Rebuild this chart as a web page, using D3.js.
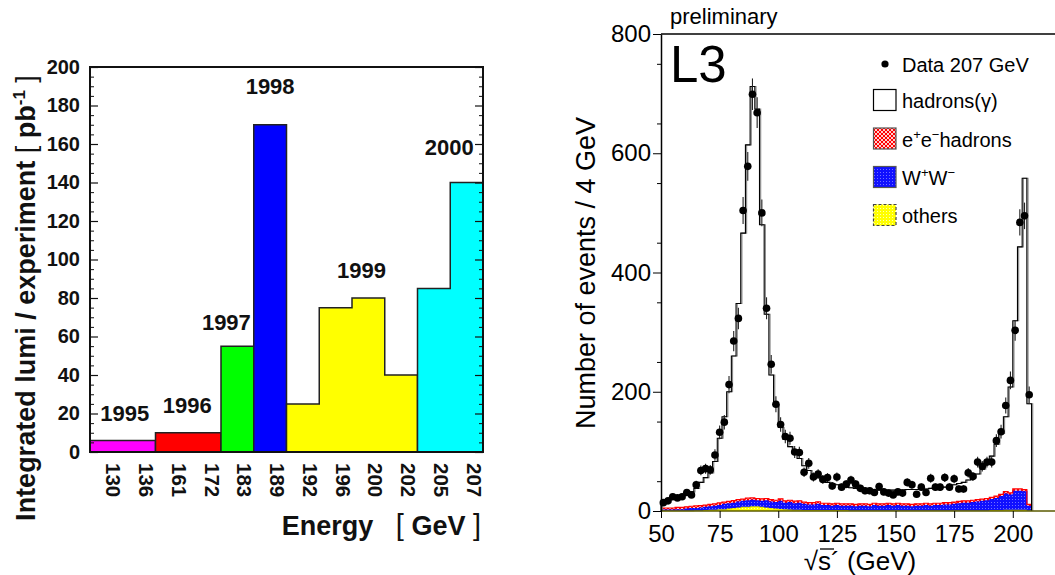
<!DOCTYPE html>
<html><head><meta charset="utf-8">
<script src="https://cdn.jsdelivr.net/npm/d3@7"></script>
<style>
body{margin:0;background:#fff}
svg{display:block;font-family:"Liberation Sans",Arial,Helvetica,sans-serif}
</style>
</head><body>
<svg id="c" width="1055" height="575"></svg>
<script>
// ================= LEFT CHART DATA =================
const energies = ["130","136","161","172","183","189","192","196","200","202","205","207"];
const lumi     = [6, 6, 10, 10, 55, 170, 25, 75, 80, 40, 85, 140];
const years    = ["1995","1995","1996","1996","1997","1998","1999","1999","1999","1999","2000","2000"];
const yearLabels = ["1995","1996","1997","1998","1999","2000"];
const yearColors = ["#ff00ff","#ff0000","#00ff00","#0000ff","#ffff00","#00ffff"];
const lumiTicks  = [0,20,40,60,80,100,120,140,160,180,200];

// ================= RIGHT CHART DATA =================
const binCenters = [51,53,55,57,59,61,63,65,67,69,
  71,73,75,77,79,81,83,85,87,89,
  91,93,95,97,99,101,103,105,107,109,
  111,113,115,117,119,121,123,125,127,129,
  131,133,135,137,139,141,143,145,147,149,
  151,153,155,157,159,161,163,165,167,169,
  171,173,175,177,179,181,183,185,187,189,
  191,193,195,197,199,201,203,205,207];
const dataCounts = [14,17,24,22,24,31,27,44,68,71,
  69,94,132,149,212,285,323,504,578,699,
  668,500,340,246,179,145,125,122,99,98,
  65,80,57,62,53,56,42,57,40,45,
  52,45,38,34,34,31,41,32,30,27,
  32,30,48,44,28,40,31,55,40,40,
  56,40,54,37,37,64,58,82,75,82,
  82,118,133,177,219,303,484,495,195];
const mcHadrons = [15,18,21,24,27,30,32,38,48,56,
  64,83,122,158,200,260,348,466,614,712,
  674,480,330,228,178,140,120,108,98,88,
  76,68,62,56,52,48,46,44,42,40,
  39,38,37,36,36,35,35,35,35,35,
  35,35,36,36,36,37,37,38,38,39,
  40,42,44,46,48,52,56,62,70,80,
  92,112,130,158,208,319,443,558,180];
const bgOthers = [0.5,0.5,0.5,0.5,0.5,0.5,0.5,1,1,1.5,
  2,2,3,3,4,5,6,7,7,8,
  8,7,6,5,4,3.5,3,2.5,2,2,
  1.5,1.5,1.5,1.5,1.5,1.5,1.5,1.5,1.5,1.5,
  1,1,1,1,1,1,1,1,1,1,
  1,1,1,1,1,1,1,1,1,1,
  1,1,1,1,1,1,1,1,1,1,
  1.5,1.5,1.5,2,2,2,2,2,1];
const bgWW = [2,2,2,2.5,2.5,3.5,4.5,4,5,5.5,
  6,7,7,9,9,9,10,10,11,11,
  10,10,12,11,11,13.5,11,12.5,11,12,
  10.5,9.5,9.5,10.5,8.5,8.5,7.5,8.5,7.5,7.5,
  8,7,8,8,7,9,8,8,9,8,
  9,8,8,7,8,8,9,8,9,9,
  10,10,11,12,13,13,14,15,16,17,
  18.5,20.5,23.5,27.5,25.5,32,32,31,8];
const bgEE = [2.5,2.5,2.5,3,3,3,3,3.5,3,3,
  3,3,3.5,3,3,3.5,3,3,3.5,3,
  3,3.5,3,3,3,3.5,3,3,3.5,3,
  3,3,3,3.5,3,3,3,3,3,3,
  3,3,3,3,3,3,3,3,3,3,
  3,3,3,3,3,3,3,3,3,3,
  3,3,3,3,3,3,3,3,3,3,
  3,3,3,3,3,3,3,3,2];
const sqrtsTicks = [50,75,100,125,150,175,200];
const eventTicks = [0,200,400,600,800];
const binWidth = 2;

const svg = d3.select("#c");

// ---------- patterns ----------
const defs = svg.append("defs");
const pRed = defs.append("pattern").attr("id","pRed").attr("width",4).attr("height",4).attr("patternUnits","userSpaceOnUse");
pRed.append("rect").attr("width",4).attr("height",4).attr("fill","#ffd0d0");
pRed.append("path").attr("d","M0,0L4,4M4,0L0,4").attr("stroke","#ff0000").attr("stroke-width",1);
const pBlue = defs.append("pattern").attr("id","pBlue").attr("width",3).attr("height",3).attr("patternUnits","userSpaceOnUse");
pBlue.append("rect").attr("width",3).attr("height",3).attr("fill","#1010ff");
pBlue.append("rect").attr("x",1).attr("y",1).attr("width",1).attr("height",1).attr("fill","#7070ff");
const pYel = defs.append("pattern").attr("id","pYel").attr("width",3).attr("height",3).attr("patternUnits","userSpaceOnUse");
pYel.append("rect").attr("width",3).attr("height",3).attr("fill","#ffff00");
pYel.append("rect").attr("x",1).attr("y",1).attr("width",1).attr("height",1).attr("fill","#ffffb0");

// ================= LEFT CHART =================
const L = {left:90,right:483,top:67,bottom:452};
const xL = d3.scaleBand().domain(energies).range([L.left,L.right]);
const yL = d3.scaleLinear().domain([0,200]).range([L.bottom,L.top]);
const bw = xL.bandwidth();
const gL = svg.append("g");

const labelOffset = {"1995":[2,-19],"1996":[-1,-20],"1997":[-11,-16],"1998":[0,-31],"1999":[9.5,-20],"2000":[-1,-28]};

yearLabels.forEach((yr,k)=>{
  const idx = years.map((y,i)=>y===yr?i:-1).filter(i=>i>=0);
  const x0 = xL(energies[idx[0]]);
  const x1 = xL(energies[idx[idx.length-1]])+bw;
  let p = `M${x0},${yL(0)}`;
  idx.forEach(i=>{ p += `L${xL(energies[i])},${yL(lumi[i])}L${xL(energies[i])+bw},${yL(lumi[i])}`; });
  p += `L${x1},${yL(0)}Z`;
  gL.append("path").attr("d",p).attr("fill",yearColors[k]).attr("stroke","#222").attr("stroke-width",1.5);
  const maxV = d3.max(idx,i=>lumi[i]);
  const o = labelOffset[yr];
  gL.append("text").attr("x",(x0+x1)/2+o[0]).attr("y",yL(maxV)+o[1])
    .attr("text-anchor","middle").attr("font-weight","bold").attr("font-size",22).attr("fill","#111").text(yr);
});

// frame
gL.append("rect").attr("x",L.left).attr("y",L.top).attr("width",L.right-L.left).attr("height",L.bottom-L.top)
  .attr("fill","none").attr("stroke","#111").attr("stroke-width",2);

// y axis left with labels (ticks inside)
const axL = gL.append("g").attr("transform",`translate(${L.left},0)`)
  .call(d3.axisLeft(yL).tickValues(lumiTicks).tickSize(-8).tickSizeOuter(0).tickPadding(10));
axL.select(".domain").remove();
axL.selectAll("text").attr("font-size",20).attr("font-weight","bold").attr("fill","#111").attr("font-family","Liberation Sans, Arial, sans-serif");
axL.selectAll("line").attr("stroke","#111").attr("stroke-width",1.2);
const minorL = d3.range(0,201,5).filter(v=>v%20!==0);
const axLm = gL.append("g").attr("transform",`translate(${L.left},0)`)
  .call(d3.axisLeft(yL).tickValues(minorL).tickSize(-4).tickSizeOuter(0).tickFormat(""));
axLm.select(".domain").remove();
axLm.selectAll("line").attr("stroke","#111");
const axR = gL.append("g").attr("transform",`translate(${L.right},0)`)
  .call(d3.axisRight(yL).tickValues(lumiTicks).tickSize(-8).tickSizeOuter(0).tickFormat(""));
axR.select(".domain").remove();
axR.selectAll("line").attr("stroke","#111").attr("stroke-width",1.2);
const axRm = gL.append("g").attr("transform",`translate(${L.right},0)`)
  .call(d3.axisRight(yL).tickValues(minorL).tickSize(-4).tickSizeOuter(0).tickFormat(""));
axRm.select(".domain").remove();
axRm.selectAll("line").attr("stroke","#111");

// x axis labels rotated
const axB = gL.append("g").attr("transform",`translate(0,${L.bottom})`)
  .call(d3.axisBottom(xL).tickSize(0).tickSizeOuter(0));
axB.select(".domain").remove();
axB.selectAll("text").attr("x",0).attr("y",0).attr("dy",null)
  .attr("transform","translate(0,11) rotate(90)").attr("text-anchor","start")
  .attr("font-size",20.5).attr("font-weight","bold").attr("fill","#111");

// titles
const yt = gL.append("text").attr("transform","translate(35,298) rotate(-90)").attr("text-anchor","middle")
  .attr("font-size",27).attr("font-weight","bold").attr("fill","#111");
yt.append("tspan").text("Integrated lumi / experiment ");
yt.append("tspan").attr("font-weight","normal").text("[");
yt.append("tspan").text(" pb");
yt.append("tspan").attr("font-size",17).attr("dy",-10).text("-1");
yt.append("tspan").attr("dy",10).attr("font-weight","normal").text(" ]");

const xt = gL.append("text").attr("x",481).attr("y",535).attr("text-anchor","end")
  .attr("font-size",27).attr("font-weight","bold").attr("fill","#111").attr("xml:space","preserve");
xt.append("tspan").text("Energy   ");
xt.append("tspan").attr("font-weight","normal").attr("font-size",29).text("[");
xt.append("tspan").text(" GeV ");
xt.append("tspan").attr("font-weight","normal").attr("font-size",29).text("]");

// ================= RIGHT CHART =================
const R = {left:661,right:1055,top:34,bottom:511};
const xs = d3.scaleLinear().domain([50,218]).range([R.left,R.right]);
const ys = d3.scaleLinear().domain([0,800]).range([R.bottom,R.top]);
const gR = svg.append("g");

const rows = binCenters.map((c,i)=>({c, others:bgOthers[i], ww:bgWW[i], ee:bgEE[i]}));
const stacked = d3.stack().keys(["others","ww","ee"])(rows);
const stepPts = s => s.flatMap(d=>[{x:d.data.c-binWidth/2,y0:d[0],y1:d[1]},{x:d.data.c+binWidth/2,y0:d[0],y1:d[1]}]);
const area = d3.area().x(d=>xs(d.x)).y0(d=>ys(d.y0)).y1(d=>ys(d.y1));
const topLine = d3.line().x(d=>xs(d.x)).y(d=>ys(d.y1));
const fills = {others:"url(#pYel)", ww:"url(#pBlue)", ee:"url(#pRed)"};
const strokes = {others:"#c8c800", ww:"#0000ff", ee:"#ff0000"};
stacked.forEach(s=>{
  const pts = stepPts(s);
  gR.append("path").attr("d",area(pts)).attr("fill",fills[s.key]);
  gR.append("path").attr("d",topLine(pts)).attr("fill","none").attr("stroke",strokes[s.key]).attr("stroke-width",1.2);
});

// MC histogram
const mcPts = [{x:binCenters[0]-binWidth/2,y:0}];
binCenters.forEach((c,i)=>{ mcPts.push({x:c-binWidth/2,y:mcHadrons[i]}); mcPts.push({x:c+binWidth/2,y:mcHadrons[i]}); });
mcPts.push({x:binCenters[binCenters.length-1]+binWidth/2,y:0});
const mcLine = d3.line().x(d=>xs(d.x)).y(d=>ys(d.y));
gR.append("path").attr("d",mcLine(mcPts)).attr("transform","translate(1.2,0)").attr("fill","none").attr("stroke","#8a8a8a").attr("stroke-width",1.1);
gR.append("path").attr("d",mcLine(mcPts)).attr("fill","none").attr("stroke","#000").attr("stroke-width",1.1);

// data points with errors
const dg = gR.append("g");
binCenters.forEach((c,i)=>{
  const n = dataCounts[i], e = Math.sqrt(n);
  dg.append("line").attr("x1",xs(c)).attr("x2",xs(c)).attr("y1",ys(n-e)).attr("y2",ys(n+e)).attr("stroke","#222").attr("stroke-width",1.1);
  dg.append("circle").attr("cx",xs(c)).attr("cy",ys(n)).attr("r",3.8).attr("fill","#000");
});

// frame lines
gR.append("line").attr("x1",R.left).attr("x2",R.right).attr("y1",R.top).attr("y2",R.top).attr("stroke","#000").attr("stroke-width",1.5);
gR.append("line").attr("x1",R.left).attr("x2",R.right).attr("y1",R.bottom).attr("y2",R.bottom).attr("stroke","#5a5a00").attr("stroke-width",1.5);

// axes
const ayR = gR.append("g").attr("transform",`translate(${R.left},0)`)
  .call(d3.axisLeft(ys).tickValues(eventTicks).tickSize(8).tickSizeOuter(0).tickPadding(2));
ayR.select(".domain").attr("stroke","#000").attr("stroke-width",1.5);
ayR.selectAll("text").attr("font-size",24).attr("fill","#000").attr("font-family","Liberation Sans, Arial, sans-serif");
const ayRm = gR.append("g").attr("transform",`translate(${R.left},0)`)
  .call(d3.axisLeft(ys).tickValues(d3.range(50,800,100)).tickSize(4).tickSizeOuter(0).tickFormat(""));
ayRm.select(".domain").remove();
const axRb = gR.append("g").attr("transform",`translate(0,${R.bottom})`)
  .call(d3.axisBottom(xs).tickValues(sqrtsTicks).tickSize(7).tickSizeOuter(0).tickPadding(7));
axRb.select(".domain").remove();
axRb.selectAll("text").attr("font-size",24).attr("fill","#000").attr("font-family","Liberation Sans, Arial, sans-serif");

// titles
gR.append("text").attr("transform","translate(595,273) rotate(-90)").attr("text-anchor","middle")
  .attr("font-size",27).attr("fill","#000").text("Number of events / 4 GeV");
gR.append("text").attr("x",860).attr("y",570).attr("text-anchor","middle").attr("font-size",26).attr("fill","#000").text("√s´ (GeV)");
gR.append("line").attr("x1",820).attr("x2",834).attr("y1",549).attr("y2",549).attr("stroke","#000").attr("stroke-width",1.3);
gR.append("text").attr("x",670).attr("y",24).attr("font-size",22).attr("fill","#000").text("preliminary");
gR.append("text").attr("x",670).attr("y",82).attr("font-size",51).attr("fill","#000").text("L3");

// legend
const lg = gR.append("g");
lg.append("circle").attr("cx",885).attr("cy",64).attr("r",3.6).attr("fill","#000");
lg.append("text").attr("x",902).attr("y",71.5).attr("font-size",20).text("Data 207 GeV");
const legItems = [
  {fill:"#fff", stroke:"#000", y:89.5, t:["hadrons(γ)"]},
  {fill:"url(#pRed)", stroke:"#555", y:128, t:["e","+","e","−","hadrons"]},
  {fill:"url(#pBlue)", stroke:"#555", y:166.5, t:["W","+","W","−"]},
  {fill:"url(#pYel)", stroke:"#444", y:204.5, t:["others"], dash:"3,2"}
];
legItems.forEach(it=>{
  lg.append("rect").attr("x",873.5).attr("y",it.y).attr("width",22.5).attr("height",21)
    .attr("fill",it.fill).attr("stroke",it.stroke).attr("stroke-width",1.2).attr("stroke-dasharray",it.dash||null);
  const t = lg.append("text").attr("x",902).attr("y",it.y+18.5).attr("font-size",20);
  it.t.forEach((s,j)=>{
    const sup = (s==="+"||s==="−");
    t.append("tspan").attr("font-size",sup?13:20).attr("dy",sup?-8:(j>0 && (it.t[j-1]==="+"||it.t[j-1]==="−")?8:0)).text(s);
  });
});
</script>
</body></html>
